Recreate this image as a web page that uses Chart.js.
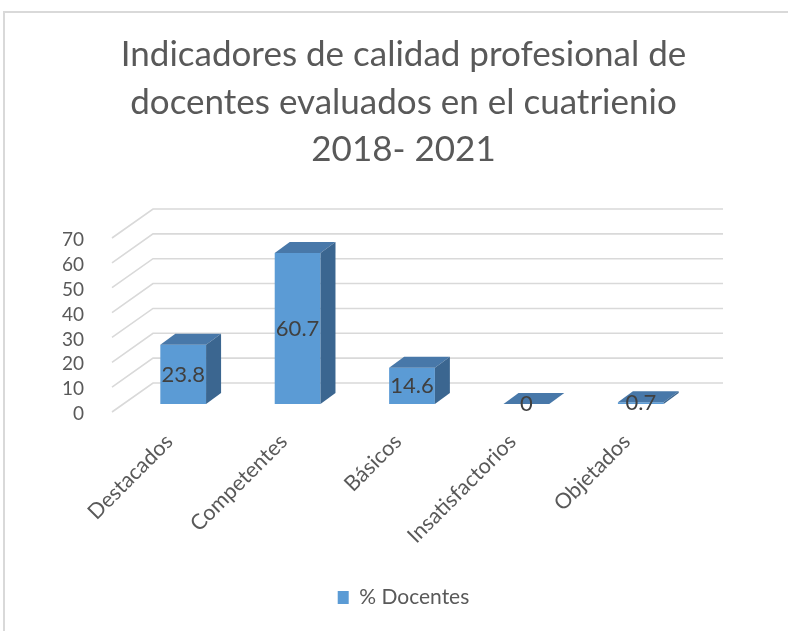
<!DOCTYPE html>
<html>
<head>
<meta charset="utf-8">
<script src="https://cdn.jsdelivr.net/npm/chart.js@4.4.1/dist/chart.umd.min.js"></script>
<style>
  html, body { margin: 0; padding: 0; background: #fff; overflow: hidden; }
  #frame { position: absolute; left: 3px; top: 11px; width: 820px; height: 660px;
           border-left: 2px solid #d9d9d9; border-top: 2px solid #d9d9d9; }
  #c { position: absolute; left: 0; top: 0; }
</style>
</head>
<body>
<div id="frame"></div>
<canvas id="c" width="788" height="631"></canvas>
<script>
const FRONT = '#5B9BD5';
const TOP   = '#4878a9';
const SIDE  = '#3b6690';
const GRID  = '#d9d9d9';
const TEXT  = '#595959';
const FONT  = 'Lato';

const categories = ['Destacados', 'Competentes', 'Básicos', 'Insatisfactorios', 'Objetados'];
const docentes   = [23.8, 60.7, 14.6, 0, 0.7];
const yTicks     = [0, 10, 20, 30, 40, 50, 60, 70];
const titleLines = ['Indicadores de calidad profesional de', 'docentes evaluados en el cuatrienio', '2018- 2021'];

// depth of the fake 3d boxes
const DX = 15, DY = -11;

const depth3d = {
  id: 'depth3d',
  beforeDatasetsDraw(chart) {
    const { ctx, chartArea, scales: { y } } = chart;
    ctx.save();
    ctx.strokeStyle = GRID;
    ctx.lineWidth = 1.6;
    y.ticks.forEach(t => {
      const py = y.getPixelForValue(t.value);
      ctx.beginPath();
      ctx.moveTo(chartArea.left - 14, py + 8);
      ctx.lineTo(chartArea.left + 27, py - 21);
      ctx.lineTo(chartArea.right + 25, py - 21);
      ctx.stroke();
    });
    ctx.restore();
  },
  afterDatasetsDraw(chart) {
    const { ctx } = chart;
    const meta = chart.getDatasetMeta(0);
    ctx.save();
    meta.data.forEach(bar => {
      const l = bar.x - bar.width / 2, r = bar.x + bar.width / 2;
      const t = bar.y, b = bar.base;
      // top face
      ctx.fillStyle = TOP;
      ctx.beginPath();
      ctx.moveTo(l, t); ctx.lineTo(r, t); ctx.lineTo(r + DX, t + DY); ctx.lineTo(l + DX, t + DY);
      ctx.closePath(); ctx.fill();
      // right face
      if (b - t > 0.5) {
        ctx.fillStyle = SIDE;
        ctx.beginPath();
        ctx.moveTo(r, t); ctx.lineTo(r + DX, t + DY); ctx.lineTo(r + DX, b + DY); ctx.lineTo(r, b);
        ctx.closePath(); ctx.fill();
      }
    });
    // value labels
    ctx.fillStyle = '#404040';
    ctx.font = '22px ' + FONT;
    ctx.textAlign = 'center';
    ctx.textBaseline = 'middle';
    meta.data.forEach((bar, i) => {
      ctx.fillText(String(docentes[i]), bar.x, (bar.y + bar.base) / 2);
    });
    ctx.restore();
  }
};

new Chart(document.getElementById('c').getContext('2d'), {
  type: 'bar',
  data: {
    labels: categories,
    datasets: [{
      label: '% Docentes',
      data: docentes,
      backgroundColor: FRONT,
      borderWidth: 0,
      categoryPercentage: 0.8,
      barPercentage: 0.5
    }]
  },
  options: {
    responsive: false,
    animation: false,
    devicePixelRatio: 1,
    // padding + empty right axis keep title/legend centred where the original has them
    layout: { padding: { left: 19, right: 0, top: 0, bottom: 13 } },
    plugins: {
      title: {
        display: true,
        text: titleLines,
        color: TEXT,
        font: { family: FONT, size: 35, weight: 'normal', lineHeight: 47.5 / 35 },
        padding: { top: 31, bottom: 56.5 }
      },
      legend: {
        position: 'bottom',
        labels: {
          boxWidth: 11, boxHeight: 13, padding: 10,
          color: TEXT,
          font: { family: FONT, size: 21 }
        }
      },
      tooltip: { enabled: false }
    },
    scales: {
      x: {
        grid: { display: false },
        border: { display: false },
        ticks: {
          color: TEXT,
          font: { family: FONT, size: 21.5 },
          minRotation: 45, maxRotation: 45,
          labelOffset: -14,
          padding: 17
        },
        afterFit(s) { s.height = 173; }
      },
      y: {
        min: 0, max: 70,
        afterBuildTicks(s) { s.ticks = yTicks.map(v => ({ value: v })); },
        grid: { display: false },
        border: { display: false },
        ticks: {
          color: TEXT,
          autoSkip: false,
          font: { family: FONT, size: 19 },
          padding: 34,
          labelOffset: 10
        },
        afterFit(s) { s.width = 107; }
      },
      yR: {
        position: 'right',
        grid: { display: false },
        border: { display: false },
        ticks: { display: false },
        afterFit(s) { s.width = 90; }
      }
    }
  },
  plugins: [depth3d]
});
</script>
</body>
</html>
